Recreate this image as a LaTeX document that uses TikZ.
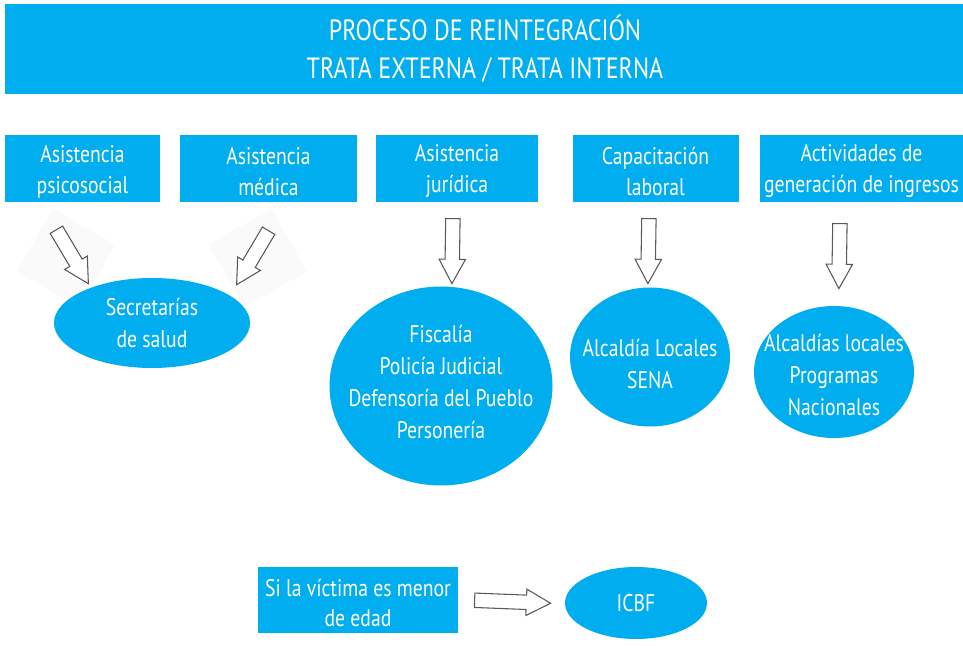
\documentclass[tikz,border=0pt]{standalone}
\usepackage{fontspec}
\setmainfont[FakeStretch=0.82]{PT Sans}
\usetikzlibrary{shapes.geometric,shapes.arrows,calc}
\definecolor{cyanbox}{HTML}{00AEEF}
\begin{document}
\begin{tikzpicture}[x=0.75pt,y=-0.75pt,
  box/.style={fill=cyanbox, inner sep=0pt, outer sep=0pt},
  boxtext/.style={text=white, align=center, font=\fontsize{18}{23.25}\selectfont},
  oval/.style={ellipse, fill=cyanbox, inner sep=0pt, outer sep=0pt},
  ovaltext/.style={text=white, align=center, font=\fontsize{18}{24}\selectfont},
  blockarr/.style={single arrow, draw=black!65, fill=white, line width=0.8pt,
    inner sep=0pt, inner ysep=5pt, outer sep=0pt,
    single arrow head extend=4.5pt, single arrow tip angle=57},
  shade/.style={fill=black!2, draw=none}
]
\useasboundingbox (0,0) rectangle (963,666);

% title
\fill[cyanbox] (5,4) rectangle (963,94);
\node[text=white, align=center, font=\fontsize{22}{28.5}\selectfont] (title) at (485,49)
  {PROCESO DE REINTEGRACIÓN\\TRATA EXTERNA / TRATA INTERNA};

% top boxes
\node[box, minimum width=116.25pt, minimum height=50.25pt,
  label={[boxtext, yshift=-2.25pt]center:Asistencia\\psicosocial}] (b1) at (82.5,168.5) {};
\node[box, minimum width=132.75pt, minimum height=50.25pt,
  label={[boxtext, yshift=-2.25pt]center:Asistencia\\médica}] (b2) at (268.5,168.5) {};
\node[box, minimum width=121.5pt, minimum height=50.25pt,
  label={[boxtext, yshift=-2.25pt]center:Asistencia\\jurídica}] (b3) at (457,168.5) {};
\node[box, minimum width=124.5pt, minimum height=50.25pt,
  label={[boxtext, yshift=-2.25pt]center:Capacitación\\laboral}] (b4) at (655.5,168.5) {};
\node[box, minimum width=152.25pt, minimum height=50.25pt,
  label={[boxtext, yshift=-2.25pt]center:Actividades de\\generación de ingresos}] (b5) at (861.5,168.5) {};

% faint backgrounds behind diagonal arrows
\fill[shade, rotate around={-30:(66,258)}] (30,222) rectangle (102,294);
\fill[shade, rotate around={30:(258,258)}] (222,222) rectangle (294,294);

% ellipses
\node[oval, minimum width=147pt, minimum height=67.5pt,
  label={[ovaltext]center:Secretarías\\de salud}] (e1) at (152,323) {};
\node[oval, minimum width=167.25pt, minimum height=149.25pt,
  label={[ovaltext, yshift=3pt]center:Fiscalía\\Policía Judicial\\Defensoría del Pueblo\\Personería}] (e2) at (441,386) {};
\node[oval, minimum width=120pt, minimum height=104.25pt,
  label={[ovaltext, yshift=-5pt]center:Alcaldía Locales\\SENA}] (e3) at (650,357) {};
\node[oval, minimum width=120pt, minimum height=99pt,
  label={[ovaltext, yshift=-2.25pt]center:Alcaldías locales\\Programas\\Nacionales}] (e4) at (834,372) {};
\node[oval, minimum width=106.5pt, minimum height=54pt,
  label={[ovaltext]center:ICBF}] (e5) at (636,603) {};

% bottom box
\node[box, minimum width=150pt, minimum height=49.5pt,
  label={[boxtext, yshift=-2.25pt]center:Si la víctima es menor\\de edad}] (b6) at (358,600) {};

% arrow end points
\coordinate (t1) at (53,224);  \coordinate (h1) at (85,278);
\coordinate (t2) at (272,225); \coordinate (h2) at (240,279);
\coordinate (t3) at (453,212); \coordinate (h3) at (452,277);
\coordinate (t4) at (649,212); \coordinate (h4) at (648,277);
\coordinate (t5) at (840,217); \coordinate (h5) at (839,282);
\coordinate (t6) at (468,600); \coordinate (h6) at (544,603);

\foreach \a/\b in {t1/h1,t2/h2,t3/h3,t4/h4,t5/h5,t6/h6}{
  \path let \p1=($(\b)-(\a)$), \n1={atan2(\y1,\x1)}, \n2={veclen(\x1,\y1)} in
    node[blockarr, minimum height=\n2, rotate=\n1] at ($(\a)!0.5!(\b)$) {};
}
\end{tikzpicture}
\end{document}
